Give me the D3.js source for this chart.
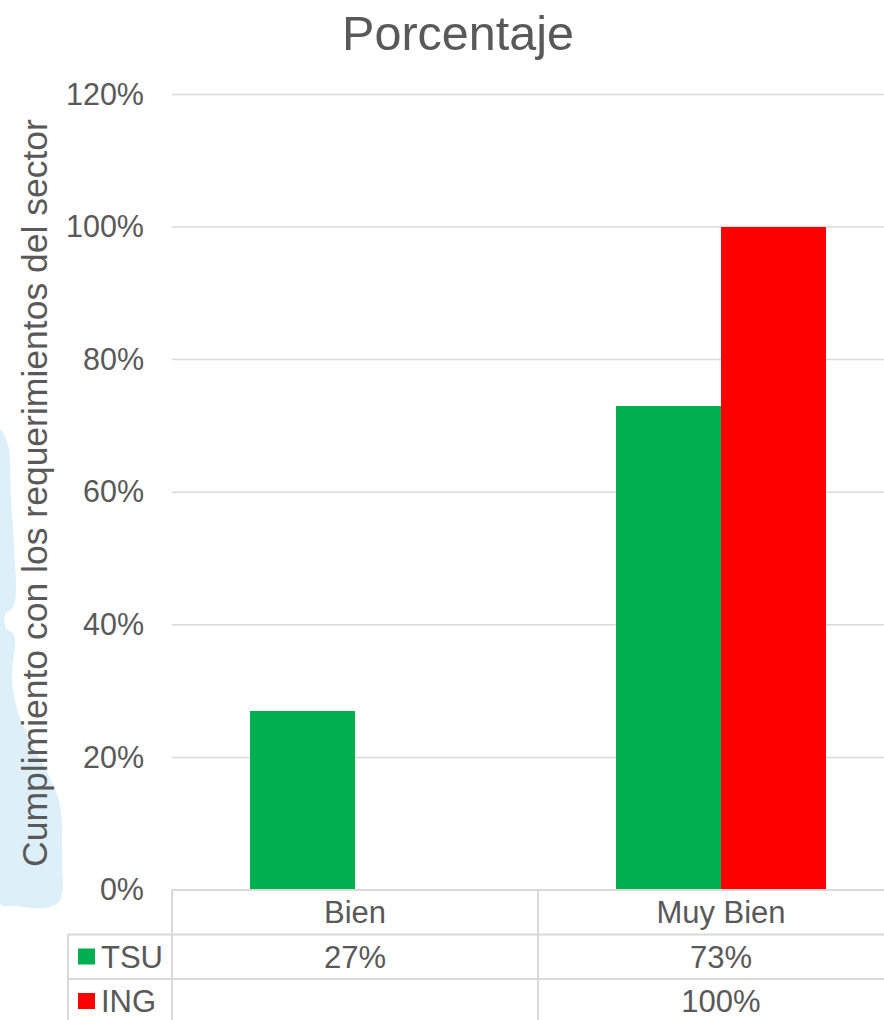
<!DOCTYPE html>
<html>
<head>
<meta charset="utf-8">
<script src="https://cdn.jsdelivr.net/npm/d3@7"></script>
<style>
  body { margin: 0; background: #fff; }
  svg text { font-family: "Liberation Sans", Arial, sans-serif; fill: #595959; }
</style>
</head>
<body>
<svg id="chart"></svg>
<script>
// Data
const categories = ['Bien', 'Muy Bien'];
const seriesNames = ['TSU', 'ING'];
const seriesColors = ['#00b050', '#ff0000'];
const tsuValues = [0.27, 0.73];
const ingValues = [null, 1.00];
const yTicks = [0, 0.2, 0.4, 0.6, 0.8, 1.0, 1.2];

const seriesValues = [tsuValues, ingValues];

const width = 884, height = 1020;
const margin = {top: 94.4, left: 172, bottom: 890};
const plotRight = 904;   // plot continues past the right edge of the picture

const svg = d3.select('#chart')
    .attr('width', width)
    .attr('height', height);

// Decorative light blue shape behind the left side
const blob = [[0,430],[8,445],[11,500],[14,545],[14,605],[5,615],[6,628],[14,635],[12,680],[18,712],[34,748],[50,778],[60,805],[62,860],[60,900],[45,908],[15,906],[0,904]];
svg.append('path')
    .attr('d', d3.line().curve(d3.curveCatmullRomClosed)(blob))
    .attr('fill', '#ddeff8');

// Scales
const x = d3.scaleBand()
    .domain(categories)
    .range([margin.left, plotRight])
    .paddingInner(0)
    .paddingOuter(0);

const xSeries = d3.scaleBand()
    .domain(seriesNames)
    .range([0, x.bandwidth()])
    .paddingInner(0)
    .paddingOuter(0.743);

const y = d3.scaleLinear()
    .domain([0, 1.2])
    .range([margin.bottom, margin.top]);

// Gridlines
svg.append('g')
    .selectAll('line')
    .data(yTicks.filter(d => d > 0))
    .join('line')
    .attr('x1', margin.left)
    .attr('x2', width)
    .attr('y1', d => y(d))
    .attr('y2', d => y(d))
    .attr('stroke', '#d9d9d9')
    .attr('stroke-width', 1.5);

// Y tick labels
const yAxis = d3.axisLeft(y)
    .tickValues(yTicks)
    .tickSize(0)
    .tickPadding(28)
    .tickFormat(d3.format('.0%'));

svg.append('g')
    .attr('transform', `translate(${margin.left},0)`)
    .call(yAxis)
    .call(g => g.select('.domain').remove())
    .call(g => g.selectAll('text')
        .attr('font-size', 30.5)
        .attr('font-family', '"Liberation Sans", Arial, sans-serif')
        .attr('fill', '#595959'));

// Bars
seriesNames.forEach((name, si) => {
  svg.append('g')
    .selectAll('rect')
    .data(categories.map((c, i) => ({cat: c, value: seriesValues[si][i]})).filter(d => d.value != null))
    .join('rect')
    .attr('x', d => x(d.cat) + xSeries(name))
    .attr('y', d => y(d.value))
    .attr('width', xSeries.bandwidth())
    .attr('height', d => y(0) - y(d.value))
    .attr('fill', seriesColors[si]);
});

// Title
svg.append('text')
    .attr('x', 458)
    .attr('y', 50)
    .attr('text-anchor', 'middle')
    .attr('font-size', 48.5)
    .text('Porcentaje');

// Y axis title
svg.append('text')
    .attr('transform', 'translate(47,493) rotate(-90)')
    .attr('text-anchor', 'middle')
    .attr('font-size', 35.5)
    .text('Cumplimiento con los requerimientos del sector');

// Data table
const rowH = 44.5;
const legendLeft = 68;
const tableTop = y(0);
const rowTops = [tableTop, tableTop + rowH, tableTop + 2 * rowH];
const lineColor = '#d9d9d9';
const table = svg.append('g');

// horizontal lines
table.append('line')
    .attr('x1', margin.left).attr('x2', width)
    .attr('y1', tableTop).attr('y2', tableTop)
    .attr('stroke', lineColor).attr('stroke-width', 2);
[rowTops[1], rowTops[2]].forEach(ty => {
  table.append('line')
      .attr('x1', legendLeft).attr('x2', width)
      .attr('y1', ty).attr('y2', ty)
      .attr('stroke', lineColor).attr('stroke-width', 2);
});

// vertical lines
table.append('line')
    .attr('x1', legendLeft).attr('x2', legendLeft)
    .attr('y1', rowTops[1]).attr('y2', height)
    .attr('stroke', lineColor).attr('stroke-width', 2);
[margin.left, x('Muy Bien')].forEach(vx => {
  table.append('line')
      .attr('x1', vx).attr('x2', vx)
      .attr('y1', tableTop).attr('y2', height)
      .attr('stroke', lineColor).attr('stroke-width', 2);
});

// category header row
table.selectAll('.cat-label')
    .data(categories)
    .join('text')
    .attr('class', 'cat-label')
    .attr('x', d => x(d) + x.bandwidth() / 2)
    .attr('y', tableTop + 33)
    .attr('text-anchor', 'middle')
    .attr('font-size', 31)
    .text(d => d);

// series rows
seriesNames.forEach((name, si) => {
  const top = rowTops[si + 1];
  table.append('rect')
      .attr('x', 78)
      .attr('y', top + 14)
      .attr('width', 17)
      .attr('height', 16)
      .attr('fill', seriesColors[si]);
  table.append('text')
      .attr('x', 101)
      .attr('y', top + 33)
      .attr('font-size', 31)
      .text(name);
  table.selectAll('.val-' + si)
      .data(categories.map((c, i) => ({cat: c, value: seriesValues[si][i]})).filter(d => d.value != null))
      .join('text')
      .attr('class', 'val-' + si)
      .attr('x', d => x(d.cat) + x.bandwidth() / 2)
      .attr('y', top + 33)
      .attr('text-anchor', 'middle')
      .attr('font-size', 31)
      .text(d => d3.format('.0%')(d.value));
});
</script>
</body>
</html>
